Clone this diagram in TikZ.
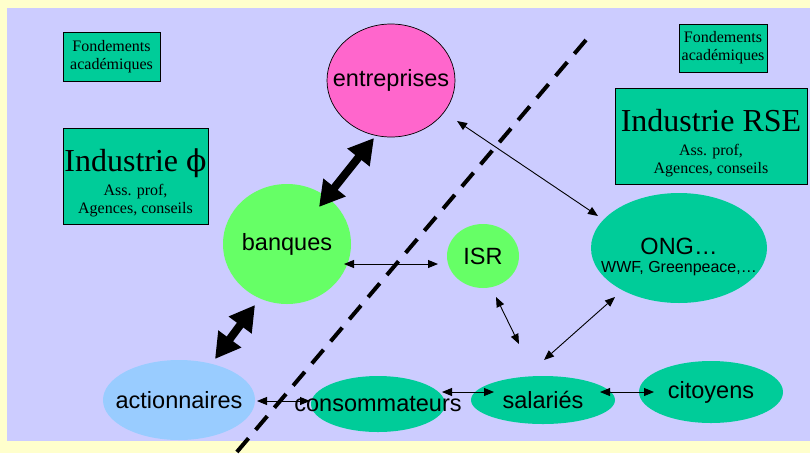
\documentclass[tikz,border=0pt]{standalone}
\usepackage{fontspec}
\setmainfont{Liberation Serif}
\newfontfamily\arialfont{Liberation Sans}
\newfontfamily\dvserif{DejaVu Serif}
\usetikzlibrary{shapes.geometric,arrows.meta,calc}
\definecolor{bgyellow}{HTML}{FFFFCC}
\definecolor{bglav}{HTML}{CCCCFF}
\definecolor{tealc}{HTML}{00CC99}
\definecolor{greenc}{HTML}{66FF66}
\definecolor{magc}{HTML}{FF66CC}
\definecolor{bluec}{HTML}{99CCFF}
\newcommand{\nw}[1]{\makebox[0pt]{#1}}
\begin{document}
\begin{tikzpicture}[x=1pt,y=-1pt,
  blob/.style={ellipse,inner sep=0pt,font=\arialfont\fontsize{23.5}{26}\selectfont},
  box/.style={rectangle,draw=black,line width=0.8pt,fill=tealc,inner sep=0pt,align=center,
              font=\fontsize{16}{18}\selectfont},
  bigarrow/.style={line width=8pt,{Triangle[width=27pt,length=25pt]}-{Triangle[width=27pt,length=25pt]}},
  thinarrow/.style={line width=0.9pt,{Triangle[width=8pt,length=10pt]}-{Triangle[width=8pt,length=10pt]}},
  divider/.style={line width=4pt,dash pattern=on 18pt off 11pt}
]
\useasboundingbox (0,0) rectangle (810,453);
\fill[bgyellow] (0,0) rectangle (810,453);
\fill[bglav] (7,8) rectangle (810,441);

% boxes
\node[box,minimum width=97pt,minimum height=49pt] (fond1) at (111.5,56.5) {Fondements\\académiques};
\node[box,minimum width=88pt,minimum height=48pt] (fond2) at (723,48) {Fondements\\académiques};
\node[box,minimum width=145pt,minimum height=96pt] (indphi) at (135.5,176)
  {{\fontsize{32}{34}\selectfont\rule{0pt}{36pt}Industrie {\dvserif\fontsize{30}{34}\selectfont ϕ}}\\[6pt]Ass. prof,\\Agences, conseils};
\node[box,minimum width=192pt,minimum height=96pt] (indrse) at (711,136)
  {{\fontsize{32}{34}\selectfont\rule{0pt}{36pt}Industrie RSE}\\[6pt]Ass. prof,\\Agences, conseils};

% ellipses
\node[blob,draw=black,line width=0.7pt,fill=magc,minimum width=128pt,minimum height=113pt] (ent) at (391,80.5) {\nw{entreprises}};
\node[blob,fill=greenc,minimum width=128pt,minimum height=120pt] (ban) at (287,244) {\nw{banques}};
\node[blob,fill=greenc,minimum width=72pt,minimum height=64pt] (isr) at (483,256) {\nw{ISR}};
\node[blob,fill=tealc,minimum width=176pt,minimum height=110pt] (ong) at (679,248) {};
\node[inner sep=0pt,font=\arialfont\fontsize{23.5}{26}\selectfont] (ongtitle) at (679,246) {ONG…};
\node[inner sep=0pt,font=\arialfont\fontsize{16}{18}\selectfont] (ongsub) at (679,269) {WWF, Greenpeace,…};
\node[blob,fill=bluec,minimum width=152pt,minimum height=80pt] (act) at (179,400) {\nw{actionnaires}};
\node[blob,fill=tealc,minimum width=134pt,minimum height=56pt] (conso) at (378,404) {\nw{\raisebox{-2pt}{consommateurs}}};
\node[blob,fill=tealc,minimum width=144pt,minimum height=48pt] (sal) at (543,400) {\nw{salariés}};
\node[blob,fill=tealc,minimum width=144pt,minimum height=62pt] (cit) at (711,392) {\nw{citoyens}};

% connectors
\draw[bigarrow] ($(ent.center)+(-17,57.5)$) -- ($(ban.center)+(32,-37)$);
\draw[bigarrow] ($(ban.center)+(-32,61)$) -- ($(act.center)+(36,-41)$);
\draw[thinarrow] ($(ban.center)+(57,20)$) -- ($(isr.center)+(-45,8)$);
\draw[thinarrow] ($(ent.center)+(66,40.5)$) -- ($(ong.center)+(-81,-32)$);
\draw[thinarrow] ($(isr.center)+(13,41)$) -- ($(sal.center)+(-24,-56)$);
\draw[thinarrow] ($(ong.center)+(-64,49)$) -- ($(sal.center)+(1,-40)$);
\draw[thinarrow] ($(act.center)+(78,1)$) -- ($(conso.center)+(-68,-3)$);
\draw[thinarrow] ($(conso.center)+(64,-12)$) -- ($(sal.center)+(-49,-8)$);
\draw[thinarrow] ($(sal.center)+(57,-8)$) -- ($(cit.center)+(-57,0)$);

% dashed divider
\coordinate (dtop) at (586,40);
\coordinate (dbot) at (236,453);
\draw[divider] (dtop) -- (dbot);
\end{tikzpicture}
\end{document}
